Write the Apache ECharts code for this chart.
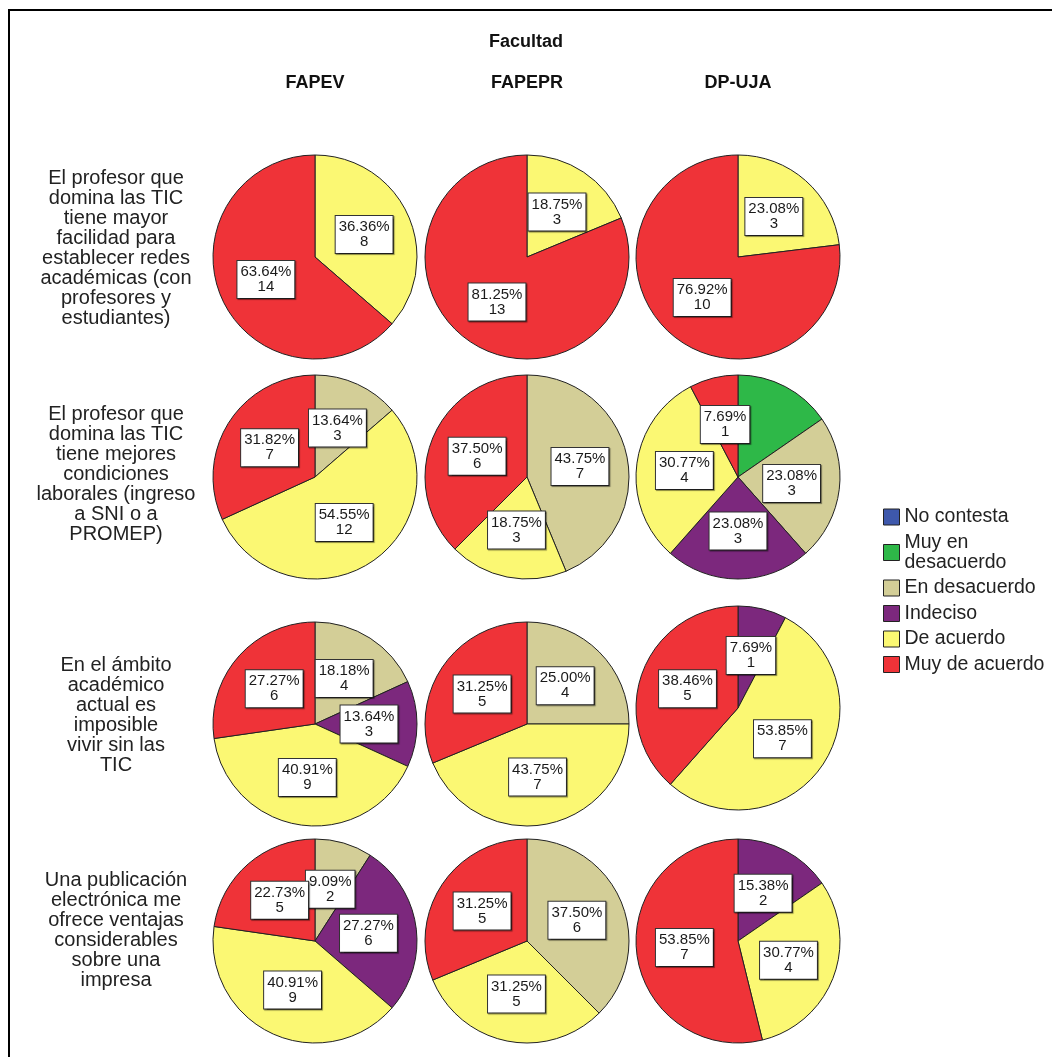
<!DOCTYPE html>
<html>
<head>
<meta charset="utf-8">
<title>Facultad</title>
<script src="https://cdn.jsdelivr.net/npm/echarts@6/dist/echarts.min.js"></script>
<style>
  html, body { margin: 0; padding: 0; background: #fff; }
  #chart { width: 1052px; height: 1057px; }
</style>
</head>
<body>
<div id="chart"></div>
<script>
// Response categories, in clockwise order from 12 o'clock
const categories = ['No contesta', 'Muy en desacuerdo', 'En desacuerdo', 'Indeciso', 'De acuerdo', 'Muy de acuerdo'];
const categoryColors = ['#3E58AC', '#2EB848', '#D3CE97', '#7C287D', '#FBF873', '#EF3338'];

const faculties = ['FAPEV', 'FAPEPR', 'DP-UJA'];

const statements = [
  'El profesor que\ndomina las TIC\ntiene mayor\nfacilidad para\nestablecer redes\nacadémicas (con\nprofesores y\nestudiantes)',
  'El profesor que\ndomina las TIC\ntiene mejores\ncondiciones\nlaborales (ingreso\na SNI o a\nPROMEP)',
  'En el ámbito\nacadémico\nactual es\nimposible\nvivir sin las\nTIC',
  'Una publicación\nelectrónica me\nofrece ventajas\nconsiderables\nsobre una\nimpresa'
];

// Counts per statement (rows) and category (columns), one array per faculty
const countsFAPEV = [
  [0, 0, 0, 0, 8, 14],
  [0, 0, 3, 0, 12, 7],
  [0, 0, 4, 3, 9, 6],
  [0, 0, 2, 6, 9, 5]
];
const countsFAPEPR = [
  [0, 0, 0, 0, 3, 13],
  [0, 0, 7, 0, 3, 6],
  [0, 0, 4, 0, 7, 5],
  [0, 0, 6, 0, 5, 5]
];
const countsDPUJA = [
  [0, 0, 0, 0, 3, 10],
  [0, 2, 3, 3, 4, 1],
  [0, 0, 0, 1, 7, 5],
  [0, 0, 0, 2, 4, 7]
];

// Slices drawn without a value label
const unlabeledSlices = [
  { faculty: 'DP-UJA', row: 1, category: 'Muy en desacuerdo' }
];

const countsByFaculty = [countsFAPEV, countsFAPEPR, countsDPUJA];

// Layout
const colX = [315, 527, 738];
const rowY = [257, 477, 724, 941];
const pieYOverride = { '2-2': 708 };
const rowTextY = [248, 474, 715, 930];
const pieRadius = 102;
const FONT = '"Liberation Sans", Arial, sans-serif';

const chart = echarts.init(document.getElementById('chart'), null, { renderer: 'canvas' });

const series = [];
faculties.forEach(function (fac, c) {
  countsByFaculty[c].forEach(function (rowCounts, r) {
    const total = rowCounts.reduce(function (a, b) { return a + b; }, 0);
    const data = categories.map(function (name, k) {
      const v = rowCounts[k];
      const item = { name: name, value: v, itemStyle: { color: categoryColors[k] } };
      if (v === 0) item.itemStyle.borderWidth = 0;
      const hidden = unlabeledSlices.some(function (u) {
        return u.faculty === fac && u.row === r && u.category === name;
      });
      if (hidden) item.label = { show: false };
      return item;
    });
    const cy = pieYOverride[r + '-' + c] !== undefined ? pieYOverride[r + '-' + c] : rowY[r];
    series.push({
      type: 'pie',
      name: fac + ' ' + (r + 1),
      center: [colX[c], cy],
      radius: [0, pieRadius],
      startAngle: 90,
      clockwise: true,
      minShowLabelAngle: 0.5,
      avoidLabelOverlap: false,
      labelLayout: { hideOverlap: false },
      animation: false,
      emphasis: { disabled: true },
      itemStyle: { borderColor: '#222', borderWidth: 1 },
      label: {
        show: true,
        position: 'inside',
        formatter: function (p) {
          return (p.value / total * 100).toFixed(2) + '%\n' + p.value;
        },
        fontFamily: FONT,
        fontSize: 15,
        lineHeight: 15,
        color: '#1a1a1a',
        backgroundColor: '#fff',
        borderColor: '#333',
        borderWidth: 1,
        padding: [4, 3, 3, 3],
        shadowColor: 'rgba(0,0,0,0.45)',
        shadowOffsetX: 1,
        shadowOffsetY: 1,
        shadowBlur: 1
      },
      labelLine: { show: false },
      data: data
    });
  });
});

const graphics = [
  {
    type: 'rect',
    shape: { x: 9, y: 10, width: 1070, height: 1070 },
    style: { fill: 'none', stroke: '#000', lineWidth: 2 },
    silent: true
  },
  {
    type: 'text',
    x: 526, y: 42,
    style: { text: 'Facultad', font: 'bold 18px ' + FONT, fill: '#111', align: 'center', verticalAlign: 'middle' }
  }
];
faculties.forEach(function (fac, c) {
  graphics.push({
    type: 'text',
    x: colX[c], y: 83,
    style: { text: fac, font: 'bold 18px ' + FONT, fill: '#111', align: 'center', verticalAlign: 'middle' }
  });
});
statements.forEach(function (txt, r) {
  graphics.push({
    type: 'text',
    x: 116, y: rowTextY[r],
    style: {
      text: txt, font: '20px ' + FONT, fill: '#222',
      align: 'center', verticalAlign: 'middle', lineHeight: 20
    }
  });
});

chart.setOption({
  backgroundColor: '#fff',
  animation: false,
  legend: {
    orient: 'vertical',
    left: 883,
    top: 507,
    padding: 0,
    itemWidth: 16,
    itemHeight: 16,
    itemGap: 5.5,
    selectedMode: false,
    icon: 'rect',
    data: categories,
    formatter: function (name) {
      return name === 'Muy en desacuerdo' ? 'Muy en\ndesacuerdo' : name;
    },
    itemStyle: { borderColor: '#222', borderWidth: 1 },
    textStyle: { fontFamily: FONT, fontSize: 19.5, lineHeight: 20, color: '#222', padding: [0, 0, 0, 0] }
  },
  graphic: graphics,
  series: series
});
</script>
</body>
</html>
